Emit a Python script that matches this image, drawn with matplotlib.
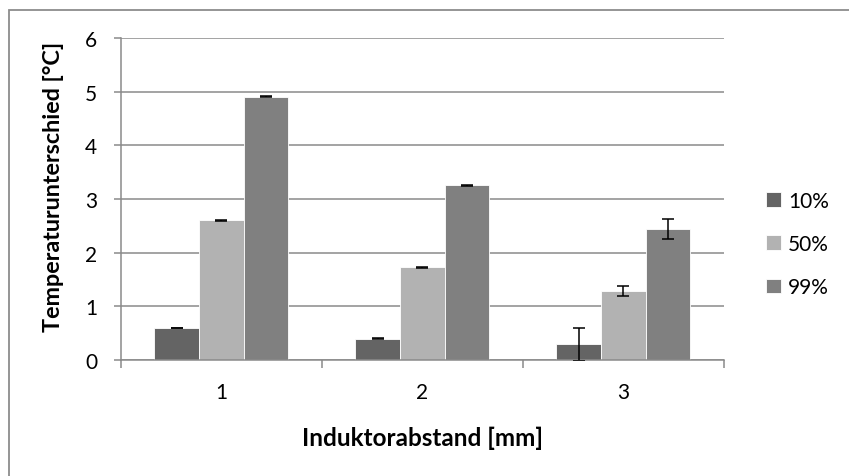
import matplotlib
matplotlib.use("Agg")
import matplotlib.pyplot as plt
import numpy as np
from matplotlib.patches import Rectangle

plt.rcParams['font.family'] = ['Lato', 'DejaVu Sans']

categories = ["1", "2", "3"]
series = ["10%", "50%", "99%"]
values_10 = [0.59, 0.39, 0.29]
values_50 = [2.60, 1.725, 1.285]
values_99 = [4.91, 3.255, 2.44]
err_10 = [0.006, 0.006, 0.31]
err_50 = [0.006, 0.006, 0.10]
err_99 = [0.006, 0.006, 0.185]
yticks = [0, 1, 2, 3, 4, 5, 6]

colors = ["#646464", "#b2b2b2", "#808080"]
grid_c = "#8a8a8a"

fig = plt.figure(figsize=(8.49, 4.77), dpi=100)
ax = fig.add_axes([120.7/849, 1-360.7/477, (724-120.7)/849, (360.7-39.3)/477])

# outer border
fig.patches.append(Rectangle((8.5/849, -0.1), 1.2, (477-10.5)/477 + 0.1,
                             transform=fig.transFigure, fill=False,
                             edgecolor="#8c8c8c", linewidth=1.3))

x = np.arange(len(categories))
w = 1/4.5
for i, (vals, errs) in enumerate([(values_10, err_10), (values_50, err_50), (values_99, err_99)]):
    ax.bar(x + (i-1)*w, vals, width=w, color=colors[i], edgecolor="white",
           linewidth=0.6, label=series[i], zorder=2)
    ax.errorbar(x + (i-1)*w, vals, yerr=errs, fmt='none', ecolor='black',
                elinewidth=1.1, capsize=4.3, capthick=1.1, zorder=3)

ax.set_xlim(-0.5, 2.5)
ax.set_ylim(0, 6)
ax.set_yticks(yticks)
ax.set_yticklabels([str(t) for t in yticks])
ax.yaxis.grid(True, color=grid_c, linewidth=1.1, zorder=0)
ax.set_axisbelow(True)

ax.set_xticks(x)
ax.set_xticklabels(categories)
ax.set_xticks([-0.5, 0.5, 1.5, 2.5], minor=True)
ax.tick_params(axis='x', which='major', length=0, pad=16, labelsize=15)
ax.tick_params(axis='x', which='minor', length=6, width=1.1, color=grid_c, direction='out')
ax.tick_params(axis='y', length=5, width=1.1, color=grid_c, pad=12, labelsize=15)

for s in ['top', 'right']:
    ax.spines[s].set_visible(False)
for s in ['left', 'bottom']:
    ax.spines[s].set_color(grid_c)
    ax.spines[s].set_linewidth(1.1)

ax.set_ylabel("Temperaturunterschied [°C]", fontsize=16.8, fontweight='bold', va='center')
ax.yaxis.set_label_coords((54-120.7)/603.3, (290.5-116.3)/321.4)
ax.set_xlabel("Induktorabstand [mm]", fontsize=17.5, fontweight='bold', va='center')
ax.xaxis.set_label_coords((422-120.7)/603.3, -(438-360.7)/321.4)

ax.legend(loc='center left', bbox_to_anchor=(766/849, 1-245/477), bbox_transform=fig.transFigure,
          frameon=False, fontsize=15, handlelength=0.7, handleheight=0.7,
          handletextpad=0.35, labelspacing=1.12, borderaxespad=0, borderpad=0)

fig.savefig("out.png", dpi=100)
